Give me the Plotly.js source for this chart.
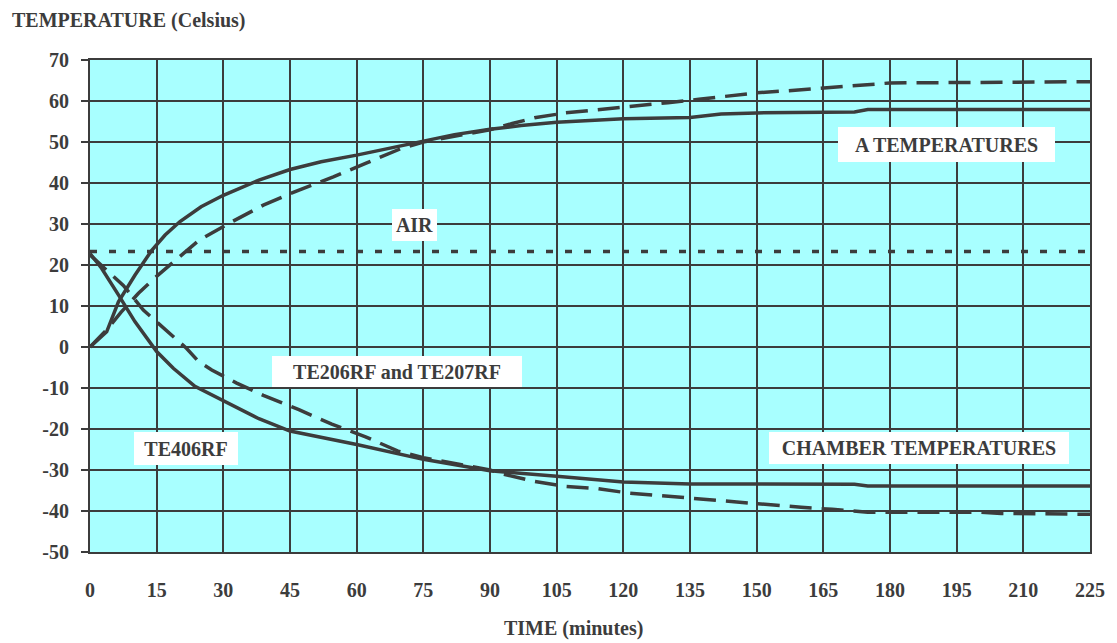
<!DOCTYPE html>
<html>
<head>
<meta charset="utf-8">
<script src="https://cdn.plot.ly/plotly-3.0.1.min.js"></script>
<style>
  html, body { margin: 0; padding: 0; background: #ffffff; }
  #chart { width: 1117px; height: 643px; }
</style>
</head>
<body>
<div id="chart"></div>
<script>
// ---- Data (time in minutes, temperature in Celsius) ----
const aSolidTime = [0, 3.75, 6.4, 10.1, 13.9, 16.9, 20.25, 25, 30, 38, 45, 52, 60, 67, 75, 82, 90, 97, 105, 112, 120, 135, 142, 150, 172, 175, 225];
const aSolidTemp = [0, 3.7, 11, 17.5, 23.6, 27.3, 30.6, 34.2, 37, 40.7, 43.3, 45.2, 46.8, 48.4, 50.3, 51.8, 53.1, 54, 54.8, 55.2, 55.7, 56, 56.8, 57.1, 57.3, 57.9, 57.9];

const aDashTime = [0, 4, 7, 10.9, 14.5, 18.4, 21.5, 24.5, 31, 39, 46.6, 54.75, 62, 70, 75, 82, 90, 95, 100, 107, 115, 122, 130, 137, 145, 150, 157, 165, 172, 180, 225];
const aDashTemp = [0, 4.5, 8.5, 13.1, 16.8, 20.4, 23.2, 26, 30, 34.6, 38.1, 41.5, 44.8, 48.4, 50, 51.5, 53, 54.5, 55.9, 57.1, 57.9, 58.6, 59.6, 60.4, 61.3, 62, 62.5, 63.2, 63.8, 64.4, 64.7];

const te406Time = [0, 2.6, 6.4, 10.1, 15, 18.75, 23.6, 30.4, 38, 45, 60, 75, 90, 105, 120, 135, 150, 172, 175, 225];
const te406Temp = [22.8, 19.2, 12.7, 6.2, -1.1, -5.2, -9.6, -13.3, -17.5, -20.5, -23.8, -27.4, -30.2, -31.5, -32.9, -33.4, -33.5, -33.5, -33.9, -33.9];

const te206Time = [0, 4, 7.5, 12, 15, 18.75, 21.7, 24.4, 27.4, 33, 39, 47, 54.4, 62, 69.3, 75, 82, 90, 93, 100, 107, 114, 121, 130, 137, 145, 152, 160, 167, 175, 200, 205, 225];
const te206Temp = [22.5, 18.5, 15, 9, 6.2, 2.6, -0.3, -3.5, -5.6, -8.8, -11.8, -15.3, -18.8, -21.9, -25.4, -27, -28.5, -30, -31, -32.8, -34, -34.5, -35.6, -36.4, -37, -37.9, -38.5, -39.1, -39.6, -40.3, -40.3, -40.6, -40.8];

const airTime = [0, 225];
const airTemp = [23.3, 23.3];

const xTicks = [0, 15, 30, 45, 60, 75, 90, 105, 120, 135, 150, 165, 180, 195, 210, 225];
const yTicks = [-50, -40, -30, -20, -10, 0, 10, 20, 30, 40, 50, 60, 70];

// ---- Styling ----
const ink = '#3c3c3c';
const serif = 'Liberation Serif';
const lineW = 3.5;

function trace(x, y, dash, name) {
  return {
    x: x, y: y, type: 'scatter', mode: 'lines', name: name,
    line: { color: ink, width: lineW, dash: dash },
    hoverinfo: 'skip'
  };
}

const data = [
  trace(airTime, airTemp, '7px,12px', 'AIR'),
  trace(aDashTime, aDashTemp, '22px,10px', 'A dashed'),
  trace(aSolidTime, aSolidTemp, 'solid', 'A solid'),
  trace(te206Time, te206Temp, '22px,10px', 'TE206RF and TE207RF'),
  trace(te406Time, te406Temp, 'solid', 'TE406RF')
];

function label(text, x, y, w, h) {
  return {
    text: text, x: x, y: y, xref: 'x', yref: 'y', showarrow: false,
    bgcolor: '#ffffff', width: w, height: h, borderpad: 0, borderwidth: 0,
    font: { family: serif, size: 20, color: ink, weight: 'bold' },
    align: 'center', valign: 'middle'
  };
}

const layout = {
  width: 1117, height: 643,
  margin: { l: 90, r: 27, t: 60, b: 91 },
  paper_bgcolor: '#ffffff',
  plot_bgcolor: '#a8ffff',
  showlegend: false,
  font: { family: serif, size: 20, color: ink, weight: 'bold' },
  xaxis: {
    range: [0, 225], tickvals: xTicks, ticktext: xTicks.map(String),
    showgrid: true, gridcolor: ink, gridwidth: 2,
    zeroline: false, showline: true, linecolor: ink, linewidth: 2, mirror: true,
    ticks: '', ticklabelstandoff: 19,
    tickfont: { family: serif, size: 20, color: ink, weight: 'bold' },
    fixedrange: true
  },
  yaxis: {
    range: [-50, 70], tickvals: yTicks, ticktext: yTicks.map(String),
    showgrid: true, gridcolor: ink, gridwidth: 2,
    zeroline: false, showline: true, linecolor: ink, linewidth: 2, mirror: true,
    ticks: 'outside', ticklen: 7, tickwidth: 2, tickcolor: ink, ticklabelstandoff: 8,
    tickfont: { family: serif, size: 20, color: ink, weight: 'bold' },
    fixedrange: true
  },
  annotations: [
    {
      text: 'TEMPERATURE (Celsius)', xref: 'paper', yref: 'paper',
      x: -80 / 1000, y: 1 + 40 / 492, xanchor: 'left', yanchor: 'middle',
      showarrow: false, font: { family: serif, size: 20, color: ink, weight: 'bold' }
    },
    {
      text: 'TIME (minutes)', xref: 'paper', yref: 'paper',
      x: (573 - 90) / 1000, y: -(628 - 552) / 492, xanchor: 'center', yanchor: 'middle',
      showarrow: false, font: { family: serif, size: 20, color: ink, weight: 'bold' }
    },
    label('A TEMPERATURES', 192.6, 49.4, 217, 35),
    label('AIR', 73, 29.8, 45, 32),
    label('TE206RF and TE207RF', 69.1, -6, 250, 31),
    label('TE406RF', 21.6, -24.8, 104, 33),
    label('CHAMBER TEMPERATURES', 186.5, -24.6, 300, 32)
  ]
};

Plotly.newPlot('chart', data, layout, { displayModeBar: false, staticPlot: true });
</script>
</body>
</html>
